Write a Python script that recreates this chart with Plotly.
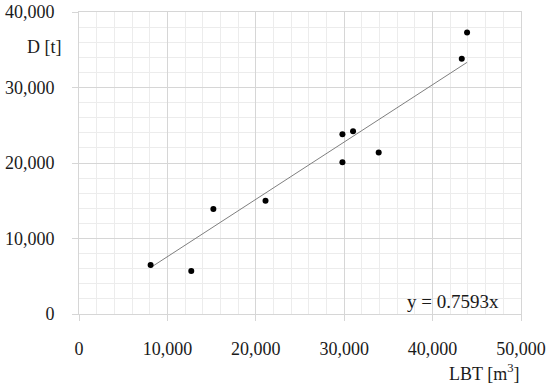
import plotly.graph_objects as go

# Data
lbt = [8100, 12700, 15200, 21100, 29800, 29800, 31000, 33900, 43300, 43900]
d_t = [6500, 5700, 13900, 15000, 20100, 23800, 24200, 21400, 33800, 37300]
slope = 0.7593
x_ticks = [0, 10000, 20000, 30000, 40000, 50000]
y_ticks = [0, 10000, 20000, 30000, 40000]

trend_x = [min(lbt), max(lbt)]
trend_y = [slope * v for v in trend_x]

FONT = "Liberation Serif"
GRID = "#d6d6d6"
MINOR = "#ececec"

fig = go.Figure()
fig.add_trace(go.Scatter(x=trend_x, y=trend_y, mode="lines",
                         line=dict(color="#7f7f7f", width=1), hoverinfo="skip"))
fig.add_trace(go.Scatter(x=lbt, y=d_t, mode="markers",
                         marker=dict(color="black", size=6)))

axis_common = dict(
    showgrid=True, gridcolor=GRID, gridwidth=1, automargin=False,
    zeroline=False, showline=True, linecolor=GRID, linewidth=1, mirror=True,
    ticks="outside", ticklen=6, tickcolor=GRID, tickwidth=1,
    tickformat=",d", tickfont=dict(family=FONT, size=18, color="#1a1a1a"),
    minor=dict(dtick=2000, showgrid=True, gridcolor=MINOR, gridwidth=1, ticks=""),
)

fig.update_xaxes(range=[0, 50000], tickvals=x_ticks, ticklabelstandoff=12, **axis_common)
fig.update_yaxes(range=[0, 40000], tickvals=y_ticks, ticklabelstandoff=14, **axis_common)

fig.add_annotation(text="D [t]", xref="paper", yref="paper", x=-0.035, y=0.885,
                   xanchor="right", yanchor="middle", showarrow=False,
                   font=dict(family=FONT, size=18, color="#1a1a1a"))
fig.add_annotation(text="LBT [m<sup>3</sup>]", xref="paper", yref="paper", x=1.0, y=-0.195,
                   xanchor="right", yanchor="middle", showarrow=False,
                   font=dict(family=FONT, size=18, color="#1a1a1a"))
fig.add_annotation(text="y = 0.7593x", xref="paper", yref="paper", x=0.955, y=0.04,
                   xanchor="right", yanchor="middle", showarrow=False,
                   font=dict(family=FONT, size=19, color="#1a1a1a"))

fig.update_layout(
    width=550, height=388,
    margin=dict(l=79, r=29, t=12, b=74),
    paper_bgcolor="white", plot_bgcolor="white",
    showlegend=False,
)

fig.write_html("out.html", config={"displayModeBar": False},
               post_script="document.body.style.margin='0';document.body.style.overflow='hidden';")
